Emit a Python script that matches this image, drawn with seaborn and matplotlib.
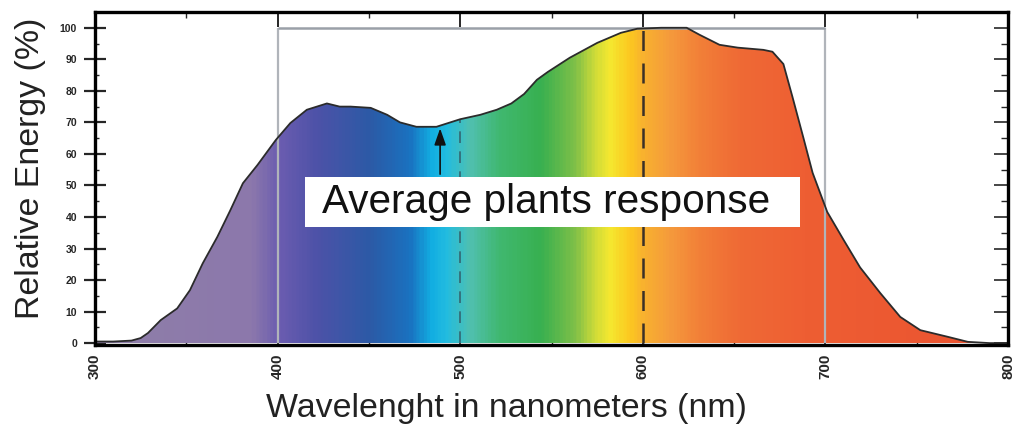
import numpy as np
import matplotlib
matplotlib.use("Agg")
import matplotlib.pyplot as plt
import seaborn as sns
from matplotlib.colors import LinearSegmentedColormap
from matplotlib.patches import Rectangle
from matplotlib.ticker import MultipleLocator

# spectrum curve
wavelength = [300, 310, 320, 325, 329, 336, 345, 352, 359, 363, 367,
              374, 381, 389, 399, 407, 416, 427, 434, 440, 451,
              460, 467, 476, 487, 500, 511, 520, 528, 535, 542,
              548, 560, 575, 588, 597, 610, 624, 631, 642, 652,
              666, 671, 677, 682, 688, 693, 701, 710, 719, 730,
              741, 752, 767, 778, 790, 800]
energy = [0.5, 0.5, 0.8, 1.6, 3.2, 7.3, 11, 16.8, 25.3, 29.5, 33.7,
          42, 50.7, 56.5, 64.4, 69.8, 74, 76, 75, 75, 74.6,
          72.4, 70, 68.6, 68.6, 71, 72.4, 74, 76, 79, 83.5,
          86, 90.5, 95.2, 98.4, 99.7, 100, 100, 97.8, 94.6, 93.7,
          93, 92.4, 88.5, 78, 65, 54, 41.6, 32.7, 24, 15.9,
          8.3, 4.1, 2, 0.4, 0, 0]

x_ticks = [300, 400, 500, 600, 700, 800]
y_ticks = [0, 10, 20, 30, 40, 50, 60, 70, 80, 90, 100]
par_band = [400, 700]
dashed_at = [500, 600]
arrow_at = 489

# colour stops of the visible spectrum fill
spectrum_nm = [300, 385, 400, 420, 450, 472, 484, 492, 505, 521, 544,
               563, 574, 582, 593, 601, 615, 631, 653, 690, 800]
spectrum_col = ['#8f7fa8', '#8c78ac', '#6b5db0', '#4e52a8', '#2c5aa6',
                '#1a72c0', '#12aee2', '#22bce0', '#50c0b0', '#40b870',
                '#38b050', '#80c048', '#d0dc38', '#f5e830', '#fcc820',
                '#f8b030', '#f59a3c', '#f28038', '#ef6a35', '#ee5e33',
                '#ea5230']

sns.set_style("white")
plt.rcParams['font.family'] = ['Liberation Sans', 'DejaVu Sans']

fig = plt.figure(figsize=(10.14, 4.38), dpi=100)
ax = fig.add_axes([95 / 1014, 1 - 345 / 438, 913 / 1014, 333 / 438])

# gradient fill clipped to the area under the curve
poly = ax.fill_between(wavelength, energy, 0, facecolor='none', edgecolor='none')
lo, hi = spectrum_nm[0], spectrum_nm[-1]
stops = [((n - lo) / (hi - lo), c) for n, c in zip(spectrum_nm, spectrum_col)]
cmap = LinearSegmentedColormap.from_list('spec', stops)
grad = np.linspace(0, 1, 600).reshape(1, -1)
im = ax.imshow(grad, cmap=cmap, extent=[lo, hi, 0, 101], aspect='auto',
               origin='lower', zorder=1)
im.set_clip_path(poly.get_paths()[0], transform=ax.transData)

sns.lineplot(x=wavelength, y=energy, color='#2b2b2b', linewidth=1.3, ax=ax,
             zorder=3)

# PAR band frame
ax.vlines(par_band, 0, 100, color='#b0b4ba', linewidth=1.6, zorder=2)
ax.hlines(100, par_band[0], par_band[1], color='#9aa0a8', linewidth=1.8, zorder=2)

# dashed markers
e500 = np.interp(dashed_at[0], wavelength, energy)
ax.vlines(dashed_at[0], 0, e500, color='#2e4050', linewidth=1.2, alpha=0.7,
          linestyles=(0, (7, 5)), zorder=2)
ax.vlines(dashed_at[1], 0, 100, color='#3a3028', linewidth=1.8,
          linestyles=(0, (8, 5)), zorder=2)

# label box + arrow
ax.add_patch(Rectangle((415, 36.8), 271, 15.9, facecolor='white',
                       edgecolor='none', zorder=4))
ax.text(424.5, 41.3, 'Average plants response', fontsize=29.2, color='#111111',
        ha='left', va='baseline', zorder=5)
ax.annotate('', xy=(arrow_at, np.interp(arrow_at, wavelength, energy)),
            xytext=(arrow_at, 52.7),
            arrowprops=dict(arrowstyle='-|>,head_width=0.35,head_length=1.0',
                            color='#111111', linewidth=1.2), zorder=5)

ax.set_xlim(300, 800)
ax.set_ylim(-0.6, 105)

for s in ax.spines.values():
    s.set_linewidth(2.4)
    s.set_color('black')
    s.set_zorder(6)

ax.set_xticks(x_ticks)
ax.set_xticklabels([str(v) for v in x_ticks], rotation=90, fontweight='bold',
                   fontsize=11)
ax.xaxis.set_minor_locator(MultipleLocator(50))
ax.tick_params(axis='x', which='major', direction='in', length=4, width=1.2,
               pad=6, bottom=True, top=False)
ax.tick_params(axis='x', which='minor', direction='in', length=2, width=1,
               bottom=True, top=False)

ax.set_yticks(y_ticks)
ax.set_yticklabels([str(v) for v in y_ticks], fontweight='bold', fontsize=7.5)
ax.yaxis.set_minor_locator(MultipleLocator(5))
ax.tick_params(axis='y', which='major', direction='inout', length=16, width=1.6,
               pad=5, left=True, right=False)
ax.tick_params(axis='y', which='minor', direction='in', length=3, width=1,
               left=True, right=False)

top = ax.secondary_xaxis('top')
top.set_xticks(x_ticks)
top.xaxis.set_minor_locator(MultipleLocator(50))
top.tick_params(which='major', direction='in', length=11, width=1.4, labeltop=False)
top.tick_params(which='minor', direction='in', length=4, width=1)
top.spines['top'].set_visible(False)

right = ax.secondary_yaxis('right')
right.set_yticks(y_ticks)
right.yaxis.set_minor_locator(MultipleLocator(5))
right.tick_params(which='major', direction='in', length=10, width=1.2, labelright=False)
right.tick_params(which='minor', direction='in', length=5, width=1)
right.spines['right'].set_visible(False)

ax.set_xlabel('Wavelenght in nanometers (nm)', fontsize=24.4, color='#222222',
              x=0.451, labelpad=10)
ax.set_ylabel('Relative Energy (%)', fontsize=24.4, color='#222222',
              y=0.53, labelpad=10)

fig.savefig('out.png', dpi=100)
